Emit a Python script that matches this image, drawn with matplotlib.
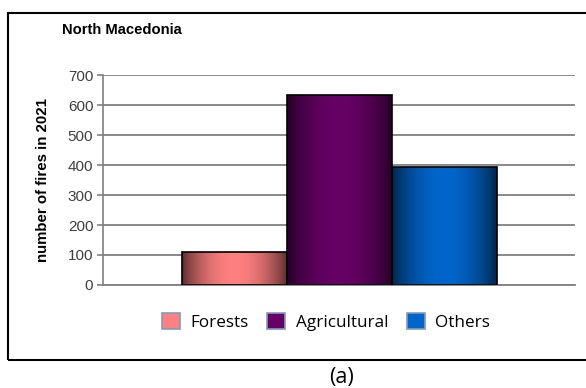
import numpy as np
import matplotlib
matplotlib.use("Agg")
import matplotlib.pyplot as plt
from matplotlib.patches import Rectangle, Patch
from matplotlib.colors import to_rgb

# data
categories = ["Forests", "Agricultural", "Others"]
fires_2021 = [110, 635, 395]
bar_colors = ["#FF8080", "#660066", "#0066CC"]

W, H = 586, 388
fig = plt.figure(figsize=(W / 100, H / 100), dpi=100)
ax = fig.add_axes([103 / W, 1 - 285 / H, (575 - 103) / W, (285 - 75) / H])

bw = 105 / 472
offsets = np.array([-1, 0, 1]) * bw
bars = ax.bar(offsets, fires_2021, width=bw, color="none",
              edgecolor="black", linewidth=1.2, zorder=3)

# horizontal "from centre" gradient in each bar
t = np.linspace(0, 1, 256)
shade = 0.35 + 0.65 * np.sin(np.pi * t) ** 0.8
for b, c in zip(bars, bar_colors):
    rgb = np.array(to_rgb(c))
    img = (shade[:, None] * rgb[None, :])[None, :, :]
    x0, y0 = b.get_x(), b.get_y()
    im = ax.imshow(img, extent=[x0, x0 + b.get_width(), y0, y0 + b.get_height()],
                   aspect="auto", zorder=2, interpolation="bilinear")
    im.set_clip_path(b)

ax.set_xlim(-0.5, 0.5)
ax.set_ylim(0, 700)
ax.set_yticks(range(0, 701, 100))
ax.set_xticks([])
ax.yaxis.grid(True, color="#808080", linewidth=1.3)
ax.set_axisbelow(True)
for s in ["top", "right"]:
    ax.spines[s].set_visible(False)
ax.spines["left"].set_color("#808080")
ax.spines["left"].set_linewidth(1.2)
ax.spines["bottom"].set_color("#808080")
ax.spines["bottom"].set_linewidth(1.3)
ax.tick_params(axis="y", length=4, color="#808080", width=1.2,
               labelsize=11, labelcolor="#404040", pad=3)
for lab in ax.get_yticklabels():
    lab.set_fontfamily("Liberation Sans")
ax.set_ylabel("number of fires in 2021", fontsize=10.8, fontweight="bold",
              fontfamily="Liberation Sans", labelpad=13)

fig.text(62 / W, 1 - 30 / H, "North Macedonia", fontsize=10.6, fontweight="bold",
         fontfamily="Liberation Sans", va="center", ha="left")

handles = [Patch(facecolor=c, edgecolor="#7f9cbf", linewidth=1.2) for c in bar_colors]
fig.legend(handles, categories, loc="center", bbox_to_anchor=(326 / W, 1 - 322 / H),
           ncol=3, frameon=False, prop={"family": "Open Sans", "size": 12.3},
           handlelength=1.05, handleheight=1.1, handletextpad=0.6, columnspacing=1.1)

fig.add_artist(Rectangle((8 / W, 1 - 360 / H), 1.0, (360 - 13) / H,
                         transform=fig.transFigure, fill=False,
                         edgecolor="black", linewidth=1.5))
fig.text(341 / W, 1 - 377 / H, "(a)", fontsize=15.5, fontfamily="Open Sans",
         ha="center", va="center")

fig.savefig("out.png", dpi=100)
